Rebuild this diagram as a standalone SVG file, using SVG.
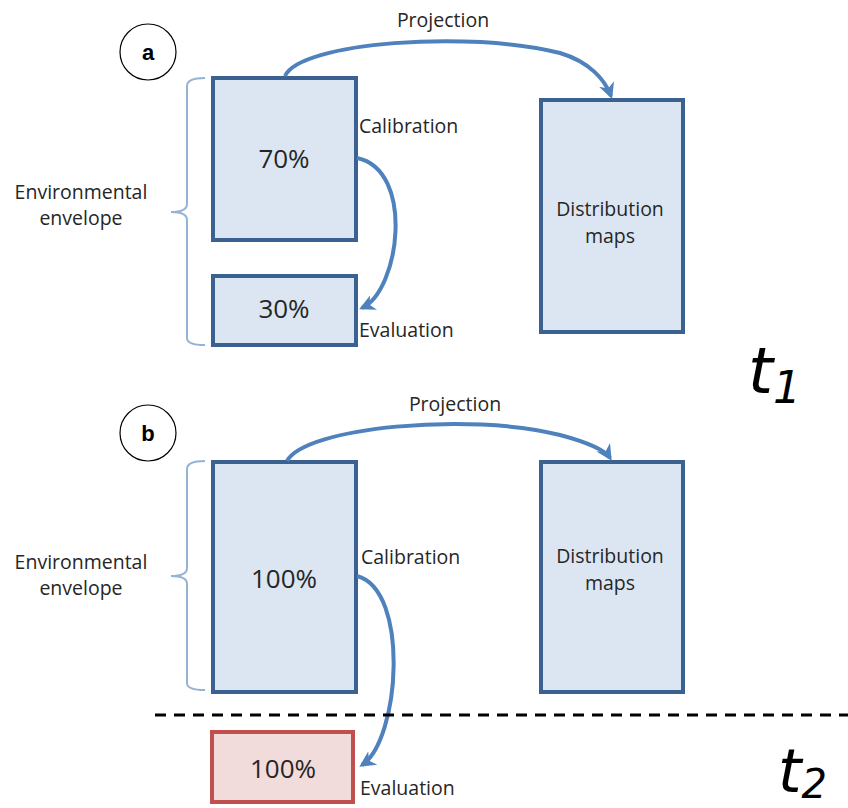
<svg xmlns="http://www.w3.org/2000/svg" width="848" height="808" viewBox="0 0 848 808">
<style>
.box{fill:#dce6f2;stroke:#3b6191;stroke-width:4}
.red{fill:#f2dcdb;stroke:#c0504d;stroke-width:4}
.lbl{font-family:"Open Sans","Liberation Sans",sans-serif;font-size:19.5px;fill:#262626}
.pct{font-family:"Open Sans","Liberation Sans",sans-serif;font-size:26px;fill:#262626;text-anchor:middle}
.mid{text-anchor:middle}
.circ{fill:#fff;stroke:#000;stroke-width:1.2}
.let{font-family:"Liberation Sans",sans-serif;font-size:22px;font-weight:bold;text-anchor:middle}
.arr{fill:none;stroke:#4f81bd;stroke-width:4}
.br{fill:none;stroke:#95b3d7;stroke-width:2}
.t{font-family:"DejaVu Sans","Noto Sans",sans-serif;font-style:italic;fill:#000}
</style>
<defs>
<marker id="ah" viewBox="0 0 10 10" refX="8" refY="5" markerWidth="4" markerHeight="4" orient="auto" markerUnits="strokeWidth">
<path d="M0,0 L10,5 L0,10 L3,5 Z" fill="#4f81bd"/>
</marker>
</defs>

<g id="panel-a-label"><circle class="circ" cx="148" cy="52" r="28"/><text class="let" x="148" y="60">a</text></g>
<g id="panel-b-label"><circle class="circ" cx="148" cy="433" r="28"/><text class="let" x="148" y="441">b</text></g>

<g id="envelope-a">
<path class="br" d="M205,78 Q187,78 187,86 L187,204 Q187,212 171,212 Q187,212 187,220 L187,338 Q187,345 205,345"/>
<text class="lbl mid" x="81" y="199">Environmental</text>
<text class="lbl mid" x="81" y="225">envelope</text>
</g>
<g id="cal-a"><rect class="box" x="213" y="78" width="143" height="162"/><text class="pct" x="284" y="168">70%</text></g>
<g id="eval-a"><rect class="box" x="213" y="276" width="143" height="69"/><text class="pct" x="284" y="318">30%</text></g>
<g id="maps-a"><rect class="box" x="541" y="100" width="142" height="232"/>
<text class="lbl mid" x="610" y="216">Distribution</text><text class="lbl mid" x="610" y="243">maps</text></g>

<g id="envelope-b">
<path class="br" d="M205,461 Q187,461 187,469 L187,568 Q187,576 171,576 Q187,576 187,584 L187,683 Q187,690 205,690"/>
<text class="lbl mid" x="81" y="569">Environmental</text>
<text class="lbl mid" x="81" y="595">envelope</text>
</g>
<g id="cal-b"><rect class="box" x="213" y="462" width="143" height="230"/><text class="pct" x="284" y="588">100%</text></g>
<g id="maps-b"><rect class="box" x="541" y="462" width="142" height="230"/>
<text class="lbl mid" x="610" y="563">Distribution</text><text class="lbl mid" x="610" y="590">maps</text></g>
<g id="eval-b"><rect class="red" x="212" y="732" width="141" height="70"/><text class="pct" x="283" y="778">100%</text></g>

<g id="connectors">
<path class="arr" marker-end="url(#ah)" d="M285,76 C300,42 470,30 560,53 C590,62 605,80 611,96"/>
<path class="arr" marker-end="url(#ah)" d="M357,158 C415,170 400,290 362,308"/>
<path class="arr" marker-end="url(#ah)" d="M287,461 C305,427 470,412 560,435 C590,443 605,450 610,458"/>
<path class="arr" marker-end="url(#ah)" d="M357,576 C410,590 400,740 362,765"/>
<line x1="155" y1="715" x2="848" y2="715" stroke="#000" stroke-width="3" stroke-dasharray="11,8"/>
</g>

<g id="labels">
<text class="lbl mid" x="443" y="27">Projection</text>
<text class="lbl" x="359" y="133">Calibration</text>
<text class="lbl" x="359" y="337">Evaluation</text>
<text class="lbl mid" x="455" y="411">Projection</text>
<text class="lbl" x="361" y="564">Calibration</text>
<text class="lbl" x="360" y="795">Evaluation</text>
<text class="t" x="748" y="393" font-size="64">t<tspan font-size="44" dy="10">1</tspan></text>
<text class="t" x="778" y="792" font-size="60">t<tspan font-size="40" dy="6">2</tspan></text>
</g>
</svg>
